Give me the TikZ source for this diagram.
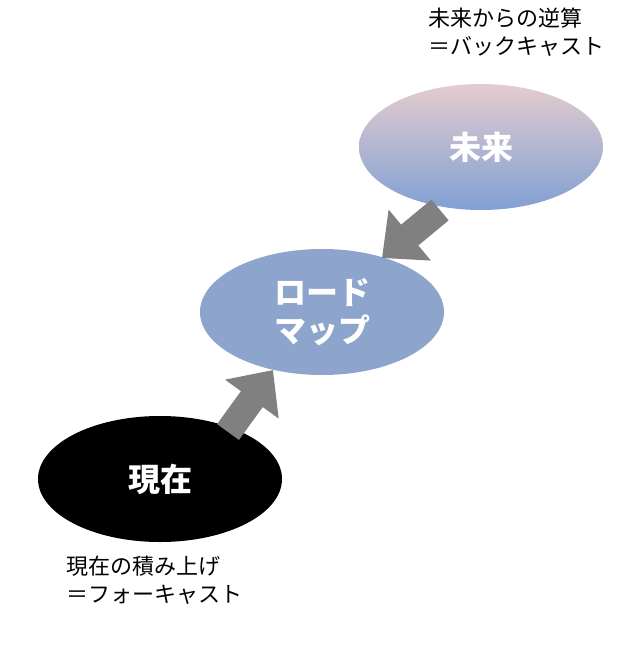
\documentclass[tikz,border=0pt]{standalone}
\usepackage{fontspec}
\setmainfont{Noto Sans CJK JP}
\usetikzlibrary{arrows.meta,shapes.geometric}
\definecolor{topc}{RGB}{228,204,208}
\definecolor{botc}{RGB}{128,160,210}
\definecolor{midc}{RGB}{141,165,204}
\definecolor{arr}{RGB}{128,128,128}
\begin{document}
\begin{tikzpicture}[x=1pt,y=-1pt,
  ell/.style={ellipse,minimum width=244pt,minimum height=126pt,inner sep=0pt,font=\bfseries\fontsize{32}{38}\selectfont,text=white,align=center},
  lbl/.style={anchor=north west,align=left,font=\fontsize{22}{28}\selectfont,inner sep=0pt},
  blk/.style={draw=arr,line width=27pt,-{Triangle[width=64pt,length=36pt]}}]
\useasboundingbox (0,0) rectangle (643,645);
\node[ell,top color=topc,bottom color=botc] (f) at (481,147) {未来};
\node[ell,fill=midc] (r) at (322,312) {ロード\\マップ};
\node[ell,fill=black] (n) at (160,479) {現在};
\coordinate (a1s) at (228,432);
\coordinate (a1e) at (273,370);
\coordinate (a2s) at (440,210);
\coordinate (a2e) at (382,258);
\draw[blk] (a1s) -- (a1e);
\draw[blk] (a2s) -- (a2e);
\node[lbl] (t1) at (428,8) {未来からの逆算\\＝バックキャスト};
\node[lbl] (t2) at (66,556) {現在の積み上げ\\＝フォーキャスト};
\end{tikzpicture}
\end{document}
